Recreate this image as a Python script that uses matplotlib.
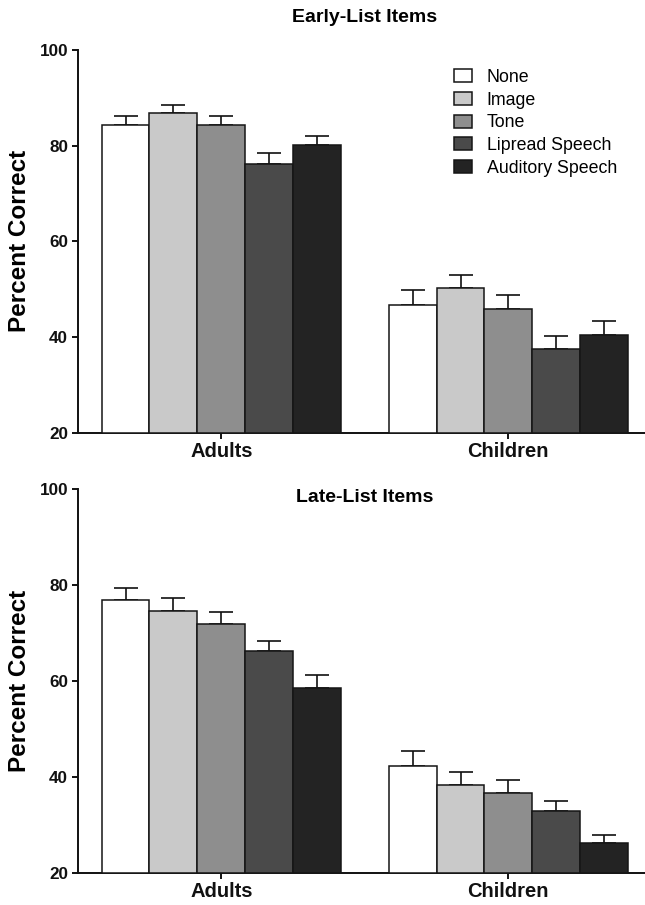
import numpy as np
import matplotlib
matplotlib.use("Agg")
import matplotlib.pyplot as plt

# Recall performance by distractor condition
groups = ["Adults", "Children"]
conditions = ["None", "Image", "Tone", "Lipread Speech", "Auditory Speech"]
colors = ["#ffffff", "#c9c9c9", "#8e8e8e", "#4a4a4a", "#232323"]

early_adults = [84.4, 86.8, 84.4, 76.1, 80.1]
early_adults_err = [1.7, 1.7, 1.7, 2.3, 2.0]
early_children = [46.7, 50.2, 45.8, 37.5, 40.5]
early_children_err = [3.2, 2.8, 3.0, 2.8, 2.8]

late_adults = [76.9, 74.7, 72.0, 66.2, 58.5]
late_adults_err = [2.6, 2.7, 2.3, 2.2, 2.8]
late_children = [42.3, 38.2, 36.6, 32.8, 26.1]
late_children_err = [3.0, 2.9, 2.7, 2.2, 1.8]

yticks = [20, 40, 60, 80, 100]

FONT = ["Liberation Sans", "DejaVu Sans"]
plt.rcParams["font.family"] = FONT

fig = plt.figure(figsize=(6.45, 9.05), dpi=100)
ax_w = 0.8902
ax_top = fig.add_axes([0.1205, 0.5219, ax_w, 0.4229])
ax_bot = fig.add_axes([0.1205, 0.0357, ax_w, 0.4236])

bar_w = 1.0 / 6
group_x = np.arange(len(groups))


def draw_panel(ax, adults, adults_err, children, children_err):
    means = np.array([adults, children])
    errs = np.array([adults_err, children_err])
    handles = []
    for i, cond in enumerate(conditions):
        xs = group_x + (i - 2) * bar_w
        ax.errorbar(xs, means[:, i], yerr=[np.zeros(2), errs[:, i]],
                    fmt="none", ecolor="#111111", elinewidth=1.2,
                    capsize=8.4, capthick=1.2, zorder=2)
        b = ax.bar(xs, means[:, i] - 20, bottom=20, width=bar_w,
                   color=colors[i], edgecolor="#151515", linewidth=1.1,
                   label=cond, zorder=3)
        handles.append(b)
    ax.set_xlim(-0.5, 1.5)
    ax.set_ylim(20, 100)
    ax.set_yticks(yticks)
    ax.set_xticks(group_x)
    ax.set_xticklabels(groups, fontsize=14.5, fontweight="bold")
    for lab in ax.get_yticklabels():
        lab.set_fontsize(12.3)
        lab.set_fontweight("bold")
    for s in ["top", "right"]:
        ax.spines[s].set_visible(False)
    for s in ["left", "bottom"]:
        ax.spines[s].set_linewidth(1.4)
        ax.spines[s].set_color("#111111")
    ax.tick_params(axis="y", direction="out", length=4, width=1.4,
                   pad=3, colors="#111111")
    ax.tick_params(axis="x", direction="out", length=4, width=1.4,
                   pad=2.5, colors="#111111")
    return handles


h = draw_panel(ax_top, early_adults, early_adults_err,
               early_children, early_children_err)
draw_panel(ax_bot, late_adults, late_adults_err,
           late_children, late_children_err)

ax_top.set_title("Early-List Items", fontsize=14, fontweight="bold",
                 pad=20)
ax_bot.text(0.5, 1.0, "Late-List Items", transform=ax_bot.transAxes,
            ha="center", va="top", fontsize=14, fontweight="bold")

leg = ax_top.legend(handles=h, labels=conditions, loc="upper left",
                    bbox_to_anchor=(0.655, 0.95), frameon=False,
                    fontsize=12.8, handlelength=1.0, handleheight=0.75,
                    handletextpad=0.85, labelspacing=0.32, borderpad=0,
                    borderaxespad=0)

for ax in (ax_top, ax_bot):
    bb = ax.get_position()
    fig.text(20 / 645, bb.y0 + bb.height / 2, "Percent Correct",
             rotation=90, ha="center", va="center",
             fontsize=17.5, fontweight="bold")

fig.savefig("out.png", dpi=100)
